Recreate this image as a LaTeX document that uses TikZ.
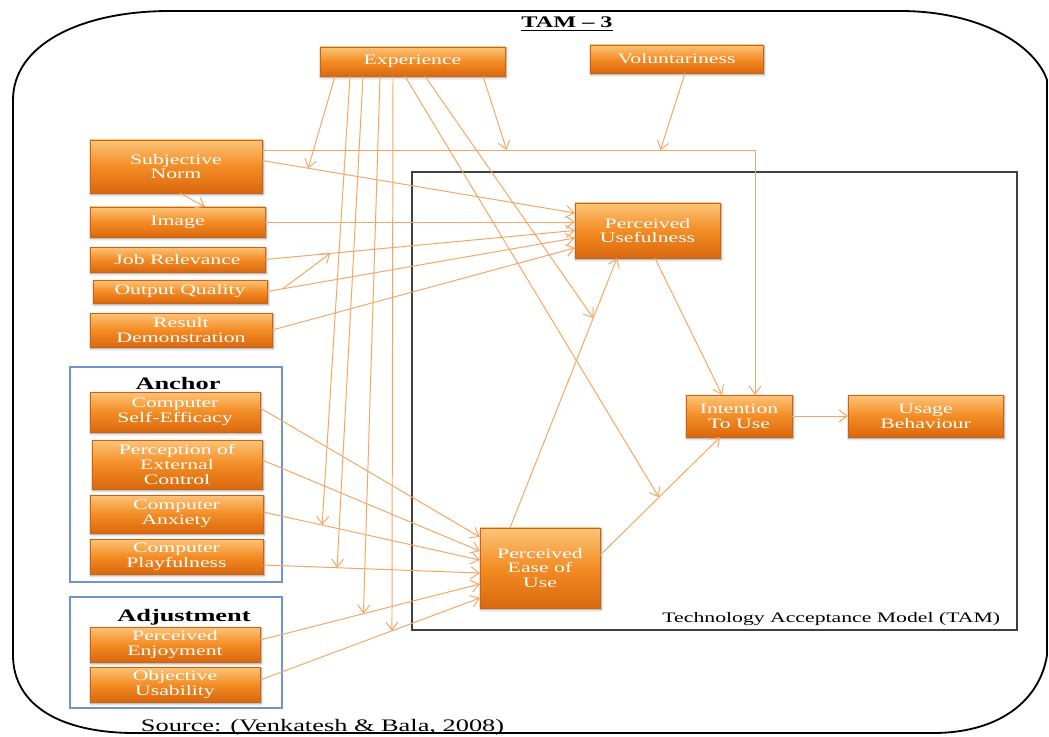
\documentclass[tikz,border=0pt]{standalone}
\usepackage{fontspec}
\setmainfont[FakeStretch=1.5]{Liberation Serif}
\usepackage{tikz}
\usetikzlibrary{arrows.meta,calc,shadows.blur}
\definecolor{BoxTop}{RGB}{252,196,120}
\definecolor{BoxMid}{RGB}{243,140,36}
\definecolor{BoxBot}{RGB}{218,104,14}
\definecolor{BoxEdge}{RGB}{200,100,20}
\definecolor{LinkOrange}{RGB}{244,166,100}
\definecolor{GroupBlue}{RGB}{110,150,205}
\newcommand{\nodefont}{\fontsize{10.3}{10.6}\selectfont}
\newcommand{\titlefont}{\fontsize{11.5}{13}\selectfont\bfseries}
\newcommand{\grouplabelfont}{\fontsize{12.5}{14}\selectfont\bfseries}
\newcommand{\sourcefont}{\fontsize{12.5}{14}\selectfont}
\tikzset{
  factor/.style={draw=BoxEdge,line width=0.3pt,top color=BoxTop,
    bottom color=BoxBot,middle color=BoxMid,text=white,align=center,
    inner sep=1pt,font=\nodefont,
    blur shadow={shadow blur steps=6,shadow xshift=0.7pt,
      shadow yshift=-1pt,shadow opacity=45}},
  link/.style={-{Straight Barb[length=2mm,width=3mm]},
    line width=0.7pt,draw=LinkOrange},
  outerframe/.style={draw=black,line width=1.3pt},
  tamframe/.style={draw=black!75,line width=0.9pt},
  groupbox/.style={draw=GroupBlue,line width=0.8pt},
}

\begin{document}
\begin{tikzpicture}[x=0.025cm,y=-0.025cm]
  \useasboundingbox (0,0) rectangle (1049,736);
  \draw[outerframe] (13,100) .. controls (13,45) and (80,11) .. (170,11)
    -- (900,11) .. controls (980,11) and (1035,45) .. (1047,80)
    -- (1047,655) .. controls (1040,700) and (1000,733) .. (933,733)
    -- (135,733) .. controls (60,733) and (13,705) .. (13,655) -- cycle;
  \node[font=\titlefont] (title) at (567,24) {\underline{TAM -- 3}};

  \draw[tamframe] (412,172) rectangle (1017,630);
  \node[anchor=base east,font=\nodefont] (tamlabel) at (1005,622)
    {Technology Acceptance Model (TAM)};
  \draw[groupbox] (70,367) rectangle (282,582);
  \draw[groupbox] (70,597) rectangle (282,708);
  \node[font=\grouplabelfont] (anchorlabel) at (178,383) {Anchor};
  \node[font=\grouplabelfont] (adjustlabel) at (184,617) {Adjustment};

  \node[factor,minimum width=4.625cm,minimum height=0.725cm] (exp) at (412.5,61.5) {Experience};
  \node[factor,minimum width=4.325cm,minimum height=0.7cm] (vol) at (676.5,59) {Voluntariness};
  \node[factor,minimum width=4.3cm,minimum height=1.325cm] (sn) at (176,166.5) {Subjective\\Norm};
  \node[factor,minimum width=4.375cm,minimum height=0.75cm] (img) at (177.5,222) {Image};
  \node[factor,minimum width=4.375cm,minimum height=0.625cm] (jr) at (177.5,259.5) {Job Relevance};
  \node[factor,minimum width=4.35cm,minimum height=0.575cm] (oq) at (180,291.5) {Output Quality};
  \node[factor,minimum width=4.55cm,minimum height=0.85cm] (rd) at (181,330) {Result\\Demonstration};
  \node[factor,minimum width=4.25cm,minimum height=1.0cm] (cse) at (175,412) {Computer\\Self-Efficacy};
  \node[factor,minimum width=4.25cm,minimum height=1.225cm] (pec) at (177,464.5) {Perception of\\External\\Control};
  \node[factor,minimum width=4.325cm,minimum height=0.95cm] (ca) at (176.5,514) {Computer\\Anxiety};
  \node[factor,minimum width=4.325cm,minimum height=0.875cm] (cp) at (176.5,556.5) {Computer\\Playfulness};
  \node[factor,minimum width=4.25cm,minimum height=0.875cm] (pe) at (175,644.5) {Perceived\\Enjoyment};
  \node[factor,minimum width=4.25cm,minimum height=0.875cm] (ou) at (175,684.5) {Objective\\Usability};
  \node[factor,minimum width=3.625cm,minimum height=1.375cm] (pu) at (647.5,230.5) {Perceived\\Usefulness};
  \node[factor,minimum width=2.65cm,minimum height=1.05cm] (itu) at (739,416) {Intention\\To Use};
  \node[factor,minimum width=3.875cm,minimum height=1.05cm] (ub) at (925.5,416) {Usage\\Behaviour};
  \node[factor,minimum width=3.0cm,minimum height=2.0cm] (peou) at (540,568) {Perceived\\Ease of\\Use};

  \draw[link] ($(sn.east)+(0,-6)$) -- coordinate[pos=0.147] (snpu) ($(pu.west)+(0,-17.5)$);
  \draw[link] ($(sn.east)+(0,-16.5)$) -| coordinate[pos=0.248] (snitu1)
    coordinate[pos=0.404] (snitu2) ($(itu.north)+(16,0)$);
  \draw[link] ($(sn.south)+(4,0)$) -- ($(img.north)+(27.5,0)$);
  \draw[link] (img.east) -- ($(pu.west)+(0,-8.5)$);
  \draw[link] (jr.east) -- coordinate[pos=0.21] (jrpu) (pu.west);
  \draw[link] (oq.east) -- coordinate[pos=0.05] (oqpu) ($(pu.west)+(0,7.5)$);
  \draw[link] (oqpu) -- (jrpu);
  \draw[link] (rd.east) -- ($(pu.west)+(0,17.5)$);
  \draw[link] ($(pu.south)+(7.5,0)$) -- ($(itu.north)+(-17,0)$);
  \draw[link] ($(peou.north)+(-30,0)$) -- coordinate[pos=0.778] (peoupu) ($(pu.south)+(-30.5,0)$);
  \draw[link] ($(peou.east)+(0,-13)$) -- coordinate[pos=0.49] (peouitu) ($(itu.south)+(-19,0)$);
  \draw[link] (itu) -- (ub);

  \draw[link] ($(cse.east)+(0,-4)$) -- ($(peou.west)+(0,-31)$);
  \draw[link] ($(pec.east)+(0,-4.5)$) -- ($(peou.west)+(0,-17)$);
  \draw[link] ($(ca.east)+(0,-2)$) -- coordinate[pos=0.272] (capeou) ($(peou.west)+(0,-8)$);
  \draw[link] ($(cp.east)+(0,8.5)$) -- coordinate[pos=0.341] (cppeou) ($(peou.west)+(0,5)$);
  \draw[link] ($(pe.east)+(0,-4.5)$) -- coordinate[pos=0.47] (pepeou) ($(peou.west)+(0,16)$);
  \draw[link] ($(ou.east)+(0,-4.5)$) -- coordinate[pos=0.6] (oupeou) ($(peou.west)+(0,30)$);

  \draw[link] ($(exp.south)+(-77.5,0)$) -- (snpu);
  \draw[link] ($(exp.south)+(-62.5,0)$) -- (capeou);
  \draw[link] ($(exp.south)+(-49.5,0)$) -- (cppeou);
  \draw[link] ($(exp.south)+(-32.5,0)$) -- (pepeou);
  \draw[link] ($(exp.south)+(-19.5,0)$) -- (oupeou);
  \draw[link] ($(exp.south)+(-7.5,0)$) -- (peouitu);
  \draw[link] ($(exp.south)+(12.5,0)$) -- (peoupu);
  \draw[link] ($(exp.south)+(70.5,0)$) -- (snitu1);
  \draw[link] ($(vol.south)+(8.5,0)$) -- (snitu2);

  \node[anchor=base west,font=\sourcefont] (source) at (136,731)
    {Source: (Venkatesh \& Bala, 2008)};
\end{tikzpicture}
\end{document}
